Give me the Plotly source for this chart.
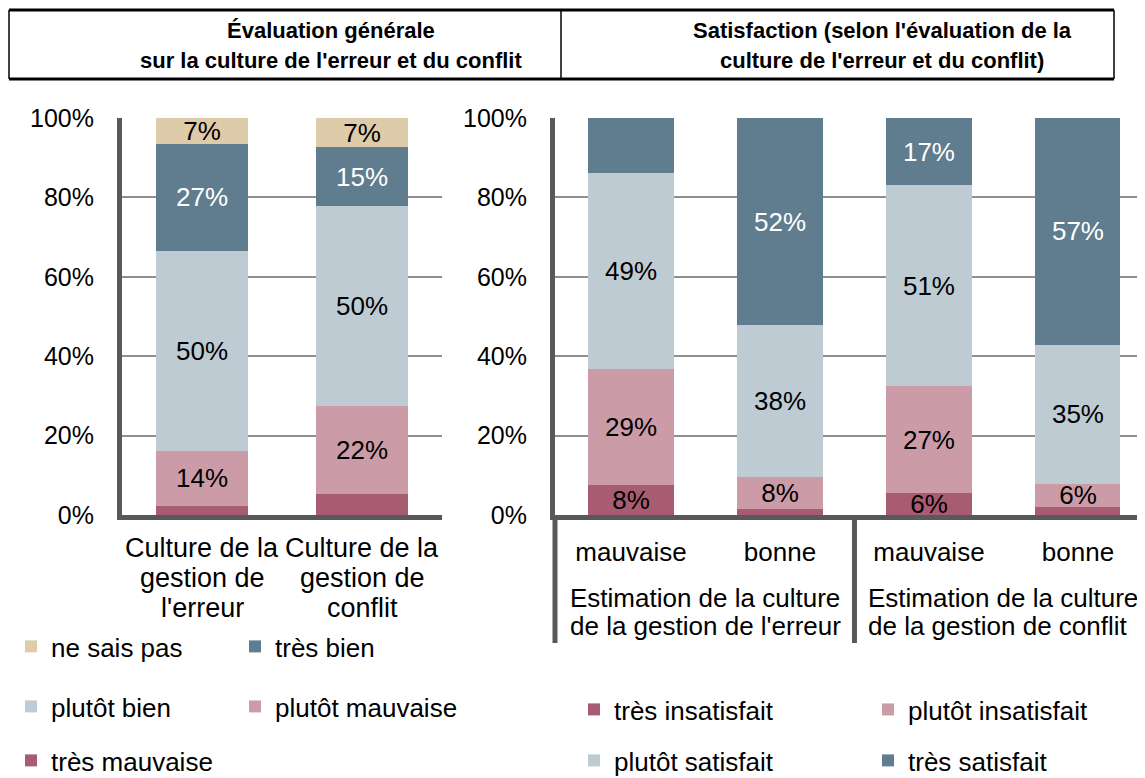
import plotly.graph_objects as go

OFF = 8                      # default page margin of the html body
FW, FH = 1145 - OFF, 778 - OFF
FONT = "Liberation Sans, Arial, sans-serif"

# ---------------- data ----------------
# Left chart: general evaluation
left_categories = ["Culture de la<br>gestion de<br>l'erreur", "Culture de la<br>gestion de<br>conflit"]
left_names = ["très mauvaise", "plutôt mauvaise", "plutôt bien", "très bien", "ne sais pas"]
tres_mauvaise = [2.3, 5.2]
plutot_mauvaise = [13.9, 22.3]
plutot_bien = [50.4, 50.3]
tres_bien = [26.8, 14.8]
ne_sais_pas = [6.6, 7.4]
left_show = [[False, False], [True, True], [True, True], [True, True], [True, True]]

# Right chart: satisfaction by evaluation
right_keys = ["mauvaise (erreur)", "bonne (erreur)", "mauvaise (conflit)", "bonne (conflit)"]
right_ticklabels = ["mauvaise", "bonne", "mauvaise", "bonne"]
right_groups = ["Estimation de la culture<br>de la gestion de l'erreur",
                "Estimation de la culture<br>de la gestion de conflit"]
right_names = ["très insatisfait", "plutôt insatisfait", "plutôt satisfait", "très satisfait"]
tres_insatisfait = [7.6, 1.6, 5.6, 2.1]
plutot_insatisfait = [29.2, 7.9, 26.8, 5.8]
plutot_satisfait = [49.3, 38.3, 50.7, 35.0]
tres_satisfait = [13.9, 52.2, 16.9, 57.1]
right_show = [[True, False, True, False], [True, True, True, True],
              [True, True, True, True], [False, True, True, True]]

y_ticks = [0, 20, 40, 60, 80, 100]
y_ticktext = [f"{v}%" for v in y_ticks]

titles_left = ["Évaluation générale", "sur la culture de l'erreur et du conflit"]
titles_right = ["Satisfaction (selon l'évaluation de la", "culture de l'erreur et du conflit)"]

# ---------------- styles ----------------
C_NSP = "#DECBA9"
C_TB = "#5F7D8F"
C_PB = "#BECBD3"
C_PM = "#CB9CA8"
C_TM = "#A85C72"
left_colors = [C_TM, C_PM, C_PB, C_TB, C_NSP]
right_colors = [C_TM, C_PM, C_PB, C_TB]
AXIS_C = "#595959"
GRID_C = "#8F8F8F"


def px_x(p):
    return (p - OFF) / FW


def px_y(p):
    return 1 - (p - OFF) / FH


fig = go.Figure()

left_series = [tres_mauvaise, plutot_mauvaise, plutot_bien, tres_bien, ne_sais_pas]
left_legend_ids = ["legend5", "legend4", "legend3", "legend2", "legend"]
for name, vals, col, show, lg in zip(left_names, left_series, left_colors, left_show, left_legend_ids):
    txt = [f"{v:.0f}%" if s else "" for v, s in zip(vals, show)]
    fig.add_trace(go.Bar(
        x=left_categories, y=vals, name=name, marker=dict(color=col, line=dict(width=0)),
        width=0.575, text=txt, texttemplate="%{text}", textposition="inside",
        insidetextanchor="middle", textangle=0,
        insidetextfont=dict(size=26, color="white" if col == C_TB else "black", family=FONT),
        xaxis="x", yaxis="y", legend=lg, hoverinfo="skip"))

right_series = [tres_insatisfait, plutot_insatisfait, plutot_satisfait, tres_satisfait]
right_legend_ids = ["legend6", "legend7", "legend8", "legend9"]
for name, vals, col, show, lg in zip(right_names, right_series, right_colors, right_show, right_legend_ids):
    txt = [f"{v:.0f}%" if s else "" for v, s in zip(vals, show)]
    fig.add_trace(go.Bar(
        x=right_keys, y=vals, name=name, marker=dict(color=col, line=dict(width=0)),
        width=0.571, text=txt, texttemplate="%{text}", textposition="inside",
        insidetextanchor="middle", textangle=0,
        insidetextfont=dict(size=26, color="white" if col == C_TB else "black", family=FONT),
        xaxis="x2", yaxis="y2", legend=lg, hoverinfo="skip"))

yax = dict(range=[0, 100], tickmode="array", tickvals=y_ticks, ticktext=y_ticktext,
           showgrid=True, gridcolor=GRID_C, gridwidth=2, zeroline=False, showline=True,
           linecolor=AXIS_C, linewidth=5, ticks="", ticklabelstandoff=18,
           tickfont=dict(size=25, color="black", family=FONT),
           domain=[px_y(515), px_y(118)], fixedrange=True)

layout = dict(
    width=FW, height=FH, margin=dict(l=0, r=0, t=0, b=0, autoexpand=False),
    paper_bgcolor="white", plot_bgcolor="white", barmode="stack",
    font=dict(family=FONT, color="black"),
    uniformtext=dict(minsize=26, mode="show"),
    xaxis=dict(domain=[px_x(122), px_x(442)], range=[-0.5, 1.5], showline=True, linecolor=AXIS_C,
               linewidth=5, ticks="", showticklabels=False, anchor="y", fixedrange=True),
    yaxis=dict(anchor="x", **yax),
    xaxis2=dict(domain=[px_x(555), 1.0], range=[-0.51, 3.45], showline=True, linecolor=AXIS_C,
                linewidth=5, ticks="", ticklabelstandoff=10, tickmode="array", tickvals=right_keys,
                ticktext=right_ticklabels, categoryorder="array", categoryarray=right_keys,
                tickfont=dict(size=26, color="black", family=FONT), anchor="y2", fixedrange=True),
    yaxis2=dict(anchor="x2", **yax),
    showlegend=True,
)

# one single-entry legend per swatch (left: 3 rows x 2 cols, right: 2 rows x 2 cols)
legend_pos = {
    "legend": (31, 648), "legend2": (255, 648),
    "legend3": (31, 708), "legend4": (255, 708),
    "legend5": (31, 762),
    "legend6": (594, 711), "legend7": (888, 711),
    "legend8": (594, 762), "legend9": (888, 762),
}
for lid, (cx, cy) in legend_pos.items():
    layout[lid] = dict(x=px_x(cx - 20), y=px_y(cy - 25), xanchor="left", yanchor="top",
                       orientation="h", bgcolor="rgba(0,0,0,0)", borderwidth=0,
                       font=dict(size=26, color="black", family=FONT))

fig.update_layout(**layout)

shapes = []
# header box
shapes.append(dict(type="line", xref="paper", yref="paper", x0=px_x(9), x1=px_x(1114),
                   y0=px_y(10), y1=px_y(10), line=dict(color="black", width=3)))
shapes.append(dict(type="line", xref="paper", yref="paper", x0=px_x(9), x1=px_x(1114),
                   y0=px_y(79), y1=px_y(79), line=dict(color="black", width=3)))
for xx in (9, 561, 1114):
    shapes.append(dict(type="line", xref="paper", yref="paper", x0=px_x(xx), x1=px_x(xx),
                       y0=px_y(10), y1=px_y(79), line=dict(color="black", width=1.5)))
# right chart category-group separators
shapes.append(dict(type="line", xref="x2 domain", yref="paper", x0=0, x1=0,
                   y0=px_y(515), y1=px_y(643), line=dict(color=AXIS_C, width=5)))
shapes.append(dict(type="line", xref="x2", yref="paper", x0=1.5, x1=1.5,
                   y0=px_y(515), y1=px_y(643), line=dict(color=AXIS_C, width=5)))
fig.update_layout(shapes=shapes)

ann = []
for i, t in enumerate(titles_left):
    ann.append(dict(text=f"<b>{t}</b>", x=px_x(331), y=px_y(31 + 29 * i), xref="paper", yref="paper",
                    xanchor="center", yanchor="middle", showarrow=False,
                    font=dict(size=22, color="black", family=FONT)))
for i, t in enumerate(titles_right):
    ann.append(dict(text=f"<b>{t}</b>", x=px_x(882), y=px_y(31 + 29 * i), xref="paper", yref="paper",
                    xanchor="center", yanchor="middle", showarrow=False,
                    font=dict(size=22, color="black", family=FONT)))
# left category labels (one line each, tight line spacing as in the original)
for cat in left_categories:
    for i, line in enumerate(cat.split("<br>")):
        ann.append(dict(text=line, x=cat, xref="x", y=px_y(548 + 30 * i), yref="paper",
                        xanchor="center", yanchor="middle", showarrow=False,
                        font=dict(size=27, color="black", family=FONT)))
# right group labels
for gx, g in zip([-0.5, 1.5], right_groups):
    for i, line in enumerate(g.split("<br>")):
        ann.append(dict(text=line, x=gx, xref="x2", xshift=12, y=px_y(598 + 28 * i), yref="paper",
                        xanchor="left", yanchor="middle", align="left", showarrow=False,
                        font=dict(size=26, color="black", family=FONT)))
fig.update_layout(annotations=ann)

fig.write_html("out.html")
